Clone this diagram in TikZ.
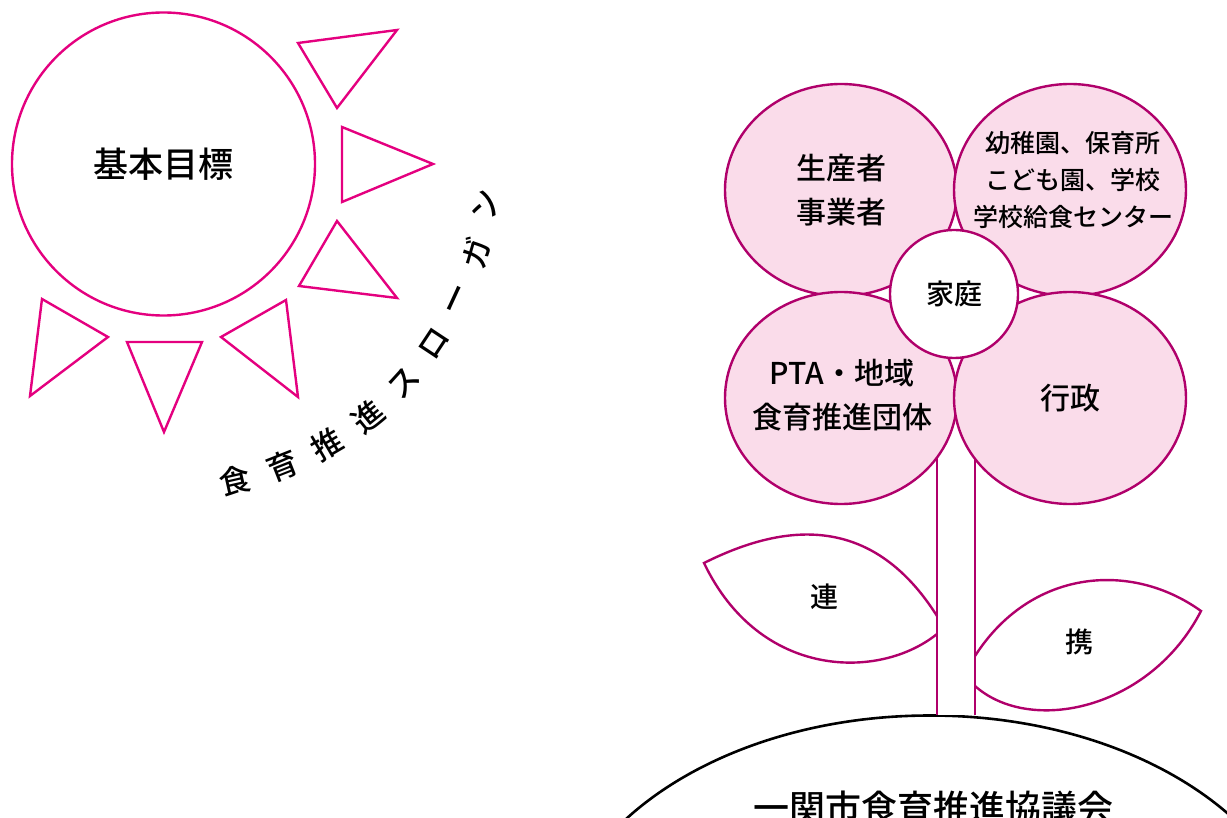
\documentclass[tikz,border=0pt]{standalone}
\usepackage{fontspec}
\newfontfamily\jp{Noto Sans CJK JP Medium}
\usetikzlibrary{shapes.geometric}
\definecolor{sunpink}{HTML}{E4007F}
\definecolor{petalline}{HTML}{B0006B}
\definecolor{petalfill}{HTML}{FADCEA}

\begin{document}
\begin{tikzpicture}[x=1pt,y=-1pt,
  sunline/.style={draw=sunpink,line width=2.4pt,line join=miter},
  petal/.style={ellipse,draw=petalline,fill=petalfill,line width=2.4pt,
    minimum width=232pt,minimum height=212pt,inner sep=0pt},
  petaltext/.style={align=center,inner sep=0pt,font=\jp\fontsize{30}{44}\selectfont},
  plant/.style={draw=petalline,line width=2.4pt},
  arcchar/.style={font=\jp\fontsize{31}{31}\selectfont,inner sep=0pt},
  leaflabel/.style={font=\jp\fontsize{28}{28}\selectfont,inner sep=0pt}
]
\useasboundingbox (0,0) rectangle (1227,818);

% ---- sun with its rays ----
\node[circle,draw=sunpink,line width=2.4pt,minimum size=303pt,inner sep=0pt,
      font=\jp\fontsize{35}{35}\selectfont] (sun) at (163.5,164) {基本目標};
\draw[sunline] (298,43) -- (397,30) -- (337,108) -- cycle;
\draw[sunline] (342,127) -- (433,164) -- (342,202) -- cycle;
\draw[sunline] (337,221) -- (397,298) -- (299,286) -- cycle;
\draw[sunline] (286,300) -- (298,397) -- (221,337) -- cycle;
\draw[sunline] (127,342) -- (202,342) -- (164,432) -- cycle;
\draw[sunline] (42,299) -- (108,337) -- (30,396) -- cycle;

% slogan set along an arc around the sun
\foreach \ch [count=\i from 0] in {食,育,推,進,ス,ロ,ー,ガ,ン} {
  \pgfmathsetmacro\ang{77.2-8.74*\i}
  \node[arcchar,rotate={90-\ang}] (slogan\i) at ([shift={(\ang:325)}]sun.center) {\ch};
}

% ---- ground ----
\begin{scope}
  \clip (0,0) rectangle (1227,818);
  \node[ellipse,draw=black,line width=2.6pt,minimum width=754pt,minimum height=507pt,
        inner sep=0pt] (ground) at (930,969) {};
\end{scope}
\node[font=\jp\fontsize{36}{36}\selectfont,inner sep=0pt] (council) at (933,808) {一関市食育推進協議会};

% ---- stem ----
\coordinate (stemLtop) at (937,400);
\coordinate (stemRtop) at (975,400);
\coordinate (stemLbot) at (937,715);
\coordinate (stemRbot) at (975,715);
\fill[white] (stemLtop) rectangle (stemRbot);
\draw[plant] (stemLtop) -- (stemLbot);
\draw[plant] (stemRtop) -- (stemRbot);

% ---- leaves ----
\coordinate (leafLa) at (937,616);
\coordinate (leafLb) at (937,634);
\coordinate (leafLtip) at (704,563);
\draw[plant] (leafLa) .. controls (870,510) and (780,525) .. (leafLtip)
             .. controls (760,680) and (880,680) .. (leafLb);
\node[leaflabel] (ren) at (824,597) {連};

\coordinate (leafRa) at (975,656);
\coordinate (leafRb) at (975,686);
\coordinate (leafRtip) at (1201,611);
\draw[plant] (leafRa) .. controls (1030,570) and (1130,560) .. (leafRtip)
             .. controls (1150,710) and (1030,735) .. (leafRb);
\node[leaflabel] (kei) at (1079,642) {携};

% ---- petals ----
\node[petal] (producers) at (841,190) {};
\node[petal] (schools) at (1070,190) {};
\node[petal] (pta) at (841,398) {};
\node[petal] (admin) at (1070,398) {};
\node[petaltext] (producerstext) at (841,190) {生産者\\事業者};
\node[petaltext,font=\jp\fontsize{25}{37}\selectfont] (schoolstext)
  at (1073,180) {幼稚園、保育所\\こども園、学校\\学校給食センター};
\node[petaltext] (ptatext) at (842,395) {PTA・地域\\食育推進団体};
\node[petaltext] (admintext) at (1070,398) {行政};

% ---- centre ----
\node[circle,draw=petalline,fill=white,line width=2.4pt,minimum size=128pt,inner sep=0pt,
      font=\jp\fontsize{28}{28}\selectfont] (home) at (954,294) {家庭};
\end{tikzpicture}
\end{document}
